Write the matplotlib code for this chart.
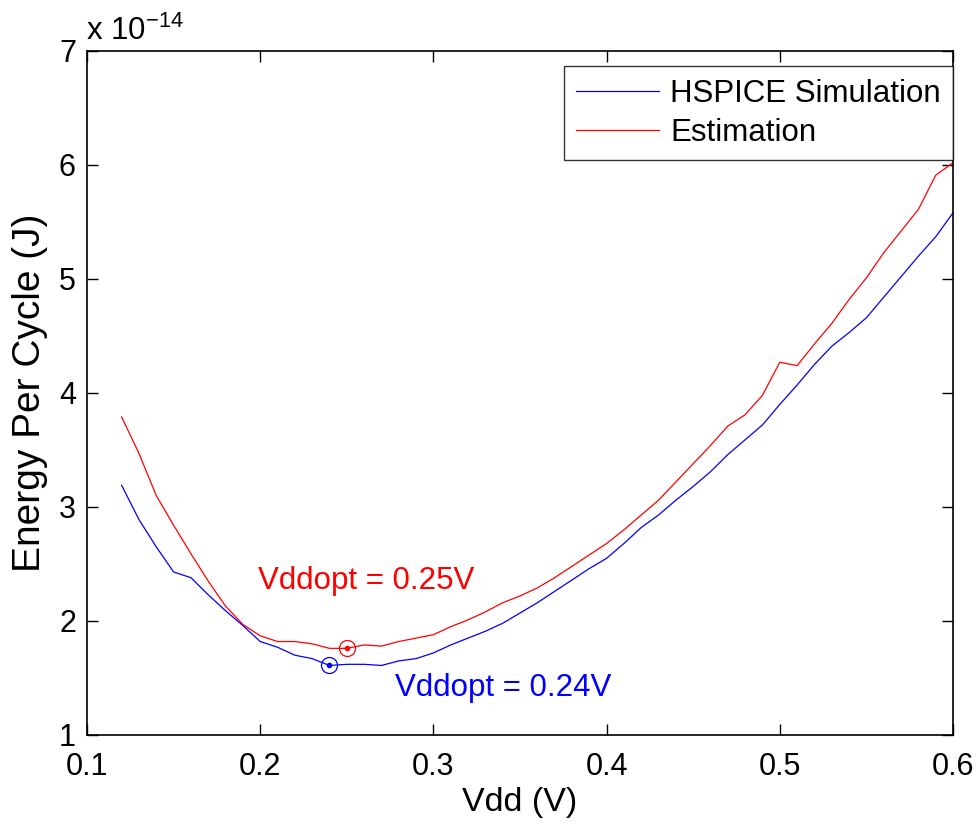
import numpy as np
import matplotlib
matplotlib.use("Agg")
import matplotlib.pyplot as plt

plt.rcParams['font.family'] = ['Liberation Sans', 'DejaVu Sans']
plt.rcParams['mathtext.fontset'] = 'custom'
plt.rcParams['mathtext.rm'] = 'Liberation Sans'

vdd = [0.12, 0.13, 0.14, 0.15, 0.16, 0.17, 0.18, 0.19, 0.20, 0.21,
       0.22, 0.23, 0.24, 0.25, 0.26, 0.27, 0.28, 0.29, 0.30, 0.31,
       0.32, 0.33, 0.34, 0.35, 0.36, 0.37, 0.38, 0.39, 0.40, 0.41,
       0.42, 0.43, 0.44, 0.45, 0.46, 0.47, 0.48, 0.49, 0.50, 0.51,
       0.52, 0.53, 0.54, 0.55, 0.56, 0.57, 0.58, 0.59, 0.60]

# Energy per cycle, in units of 1e-14 J
hspice = [3.19, 2.89, 2.65, 2.43, 2.38, 2.23, 2.09, 1.96, 1.82, 1.77,
          1.70, 1.67, 1.61, 1.62, 1.62, 1.61, 1.65, 1.67, 1.72, 1.79,
          1.85, 1.91, 1.98, 2.07, 2.16, 2.26, 2.36, 2.46, 2.55, 2.68,
          2.82, 2.93, 3.06, 3.18, 3.31, 3.46, 3.59, 3.72, 3.90, 4.07,
          4.25, 4.41, 4.53, 4.66, 4.84, 5.02, 5.20, 5.37, 5.58]

estimation = [3.79, 3.47, 3.10, 2.84, 2.59, 2.35, 2.13, 1.97, 1.87, 1.82,
              1.82, 1.80, 1.76, 1.76, 1.79, 1.78, 1.82, 1.85, 1.88, 1.95,
              2.01, 2.08, 2.16, 2.22, 2.29, 2.38, 2.48, 2.58, 2.68, 2.80,
              2.93, 3.06, 3.22, 3.38, 3.54, 3.71, 3.81, 3.98, 4.27, 4.24,
              4.43, 4.61, 4.82, 5.01, 5.23, 5.42, 5.61, 5.91, 6.02]

opt_vdd = [0.24, 0.25]
opt_energy = [1.61, 1.76]
opt_labels = ['Vddopt = 0.24V', 'Vddopt = 0.25V']
xticks = [0.1, 0.2, 0.3, 0.4, 0.5, 0.6]
yticks = [1, 2, 3, 4, 5, 6, 7]

fig = plt.figure(figsize=(9.8, 8.25), dpi=100)
ax = fig.add_axes([87/980, 1-735/825, (953-87)/980, (735-51)/825])

ax.plot(vdd, hspice, color='#0000ff', lw=0.9, label='HSPICE Simulation')
ax.plot(vdd, estimation, color='#ff0000', lw=0.9, label='Estimation')

cols = ['#0000ff', '#ff0000']
for v, e, c in zip(opt_vdd, opt_energy, cols):
    ax.plot([v], [e], marker='o', ms=11.5, mfc='none', mec=c, mew=0.9, ls='none')
    ax.plot([v], [e], marker='o', ms=3, mfc=c, mec=c, ls='none')

ax.text(0.278, 1.41, opt_labels[0], color='#0000ff', fontsize=22.5, va='center', ha='left')
ax.text(0.199, 2.35, opt_labels[1], color='#ff0000', fontsize=22.5, va='center', ha='left')

ax.set_xlim(0.1, 0.6)
ax.set_ylim(1, 7)
ax.set_xticks(xticks)
ax.set_xticklabels([f'{t:g}' for t in xticks])
ax.set_yticks(yticks)
ax.set_yticklabels([f'{t:g}' for t in yticks])
ax.tick_params(direction='in', length=8, width=1, labelsize=22, top=True, right=True)
ax.tick_params(axis='x', pad=12)
ax.tick_params(axis='y', pad=8)
for s in ax.spines.values():
    s.set_linewidth(1.2)

ax.set_xlabel('Vdd (V)', fontsize=24.5, labelpad=4)
ax.set_ylabel('Energy Per Cycle (J)', fontsize=28, labelpad=8)

fig.text(86/980, 1-40/825, r'x 10$^{\mathregular{-14}}$', fontsize=22.5, ha='left', va='baseline')

leg = ax.legend(loc='upper right', bbox_to_anchor=(1.0, 1 - 15/684), fontsize=22.5,
                frameon=True, fancybox=False, edgecolor='black', handlelength=2.65,
                borderaxespad=0.0, labelspacing=0.3, handletextpad=0.35, borderpad=0.4)
leg.get_frame().set_linewidth(1.0)

fig.savefig('out.png', dpi=100)
